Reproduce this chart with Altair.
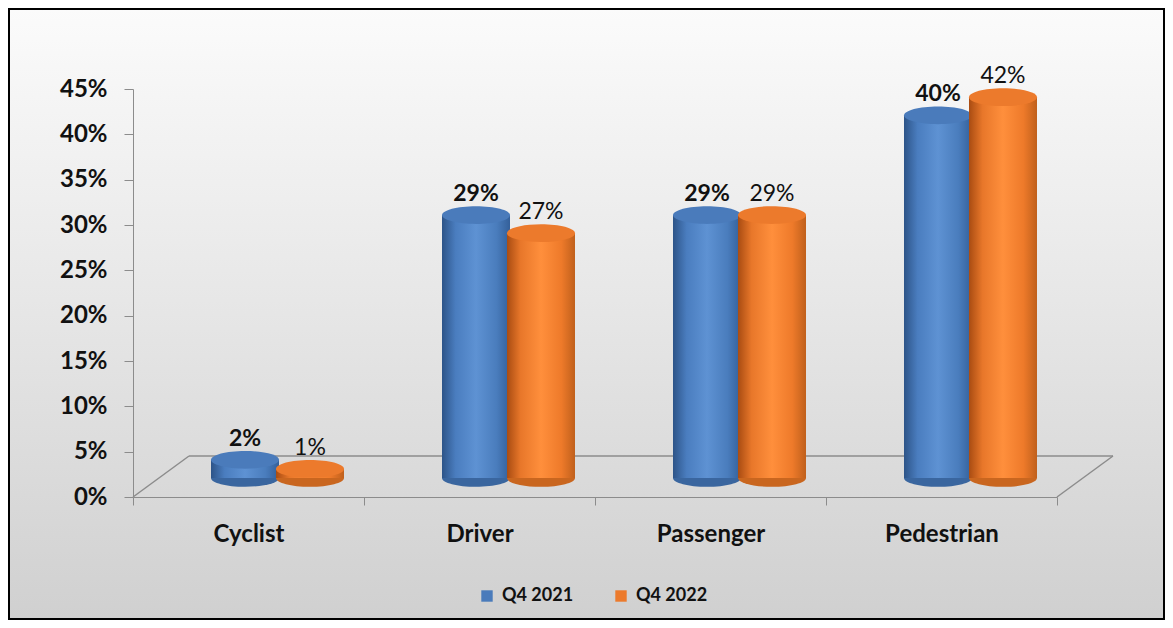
import altair as alt
import pandas as pd

# ---------------- data ----------------
categories = ["Cyclist", "Driver", "Passenger", "Pedestrian"]
series = ["Q4 2021", "Q4 2022"]
q4_2021 = [2, 29, 29, 40]
q4_2022 = [1, 27, 29, 42]
y_ticks = [0, 5, 10, 15, 20, 25, 30, 35, 40, 45]

rows = []
for s, vals in zip(series, [q4_2021, q4_2022]):
    for c, v in zip(categories, vals):
        rows.append({"category": c, "series": s, "value": v})
df = pd.DataFrame(rows)
one = pd.DataFrame({"k": [0]})

# ---------------- layout / style ----------------
W, H = 924, 408
STEP = W / len(categories)
PAD = {"left": 125, "right": 108, "top": 81, "bottom": 123}
DX, DY = 29, -19          # cylinder position inside 3D floor depth
FDX, FDY = 56, -41        # floor depth
BAR_W = 68
ELL = "M -1 0 A 1 0.26 0 1 1 1 0 A 1 0.26 0 1 1 -1 0 Z"
FONT = "Lato"
GREY = "#8c8c8c"

blue_top, orange_top = "#4a7bbb", "#ec7a2c"
blue_grad = alt.Gradient(gradient="linear", x1=0, x2=1, y1=0, y2=0, stops=[
    alt.GradientStop(color="#2d5488", offset=0),
    alt.GradientStop(color="#4a7dbf", offset=0.2),
    alt.GradientStop(color="#5e92d3", offset=0.5),
    alt.GradientStop(color="#4a7dbd", offset=0.8),
    alt.GradientStop(color="#34609a", offset=1)])
orange_grad = alt.Gradient(gradient="linear", x1=0, x2=1, y1=0, y2=0, stops=[
    alt.GradientStop(color="#a94c12", offset=0),
    alt.GradientStop(color="#e8772a", offset=0.2),
    alt.GradientStop(color="#ff8f3c", offset=0.5),
    alt.GradientStop(color="#ee7a2a", offset=0.8),
    alt.GradientStop(color="#c0601c", offset=1)])
bg_grad = alt.Gradient(gradient="linear", x1=0, x2=0, y1=0, y2=1, stops=[
    alt.GradientStop(color="#fbfbfb", offset=0),
    alt.GradientStop(color="#e6e6e6", offset=0.5),
    alt.GradientStop(color="#d0d0d0", offset=1)])

x_enc = alt.X("category:N", sort=categories, title=None,
              scale=alt.Scale(paddingInner=0, paddingOuter=0),
              axis=alt.Axis(labelAngle=0, tickBand="extent", domainColor=GREY,
                            tickColor=GREY, tickSize=8, labelFont=FONT,
                            labelFontWeight="bold", labelFontSize=24,
                            labelColor="#111111", labelPadding=17, grid=False,
                            zindex=1))
xo_enc = alt.XOffset("series:N", sort=series,
                     scale=alt.Scale(paddingInner=0, paddingOuter=0.777,
                                     range=[DX, STEP + DX]))
y_enc = alt.Y("value:Q", title=None, scale=alt.Scale(domain=[0, 45], nice=False),
              axis=alt.Axis(values=y_ticks, labelExpr="datum.value + '%'",
                            domainColor=GREY, tickColor=GREY, tickSize=9,
                            labelFont=FONT, labelFontWeight="bold",
                            labelFontSize=24, labelColor="#111111",
                            labelPadding=17, grid=False, zindex=1))
color_enc = alt.Color("series:N", sort=series,
                      scale=alt.Scale(domain=series, range=[blue_top, orange_top]),
                      legend=alt.Legend(title=None, orient="none", direction="horizontal",
                                        legendX=345, legendY=498, symbolType="square",
                                        symbolSize=130, symbolStrokeWidth=0,
                                        labelFont=FONT, labelFontWeight="bold",
                                        labelFontSize=18, labelColor="#111111",
                                        columnPadding=38, labelOffset=6, padding=0))

# ---------------- background ----------------
background = alt.Chart(one).mark_rect(fill=bg_grad, stroke="#000000", strokeWidth=2).encode(
    x=alt.value(-PAD["left"] + 1), x2=alt.value(W + PAD["right"] - 1),
    y=alt.value(-PAD["top"] + 1), y2=alt.value(H + PAD["bottom"] - 1))

# ---------------- floor ----------------
floor_back = alt.Chart(one).mark_rule(color=GREY, strokeWidth=1.5, xOffset=FDX,
                                      x2Offset=FDX, yOffset=FDY).encode(
    x=alt.value(0), x2=alt.value(W), y=alt.Y(datum=0))
floor_left = alt.Chart(one).mark_rule(color=GREY, strokeWidth=1.5,
                                      x2Offset=FDX, y2Offset=FDY).encode(
    x=alt.value(0), x2=alt.value(0), y=alt.Y(datum=0), y2=alt.Y2(datum=0))
floor_right = alt.Chart(one).mark_rule(color=GREY, strokeWidth=1.5,
                                       x2Offset=FDX, y2Offset=FDY).encode(
    x=alt.value(W), x2=alt.value(W), y=alt.Y(datum=0), y2=alt.Y2(datum=0))


# ---------------- cylinders ----------------
def cylinder(s, grad, edge):
    base = alt.Chart(df).transform_filter(alt.datum.series == s)
    bottom = base.mark_point(shape=ELL, size=BAR_W ** 2, filled=True, opacity=1,
                             fill=edge, strokeWidth=0, yOffset=DY).encode(
        x=x_enc, xOffset=xo_enc, y=alt.Y(datum=0))
    body = base.mark_bar(width=BAR_W, fill=grad, yOffset=DY).encode(
        x=x_enc, xOffset=xo_enc, y=y_enc)
    top = base.mark_point(shape=ELL, size=BAR_W ** 2, filled=True, opacity=1,
                          strokeWidth=0, yOffset=DY).encode(
        x=x_enc, xOffset=xo_enc, y=y_enc, color=color_enc)
    return [bottom, body, top]


def labels(s, weight):
    return alt.Chart(df).transform_filter(alt.datum.series == s).transform_calculate(
        label="datum.value + '%'").mark_text(
        font=FONT, fontSize=23, fontWeight=weight, color="#111111",
        baseline="bottom", yOffset=DY - 9).encode(
        x=x_enc, xOffset=xo_enc, y=y_enc, text=alt.Text("label:N"))


layers = [background, floor_back, floor_left, floor_right]
layers += cylinder("Q4 2021", blue_grad, "#3a669f")
layers += cylinder("Q4 2022", orange_grad, "#c9661f")
layers += [labels("Q4 2021", "bold"), labels("Q4 2022", "normal")]

chart = alt.layer(*layers).properties(
    width=W, height=H,
    autosize=alt.AutoSizeParams(type="none"),
    padding=PAD,
    background="white",
).configure_view(stroke=None)

chart.save("out.html", embed_options={"renderer": "svg", "actions": False})
